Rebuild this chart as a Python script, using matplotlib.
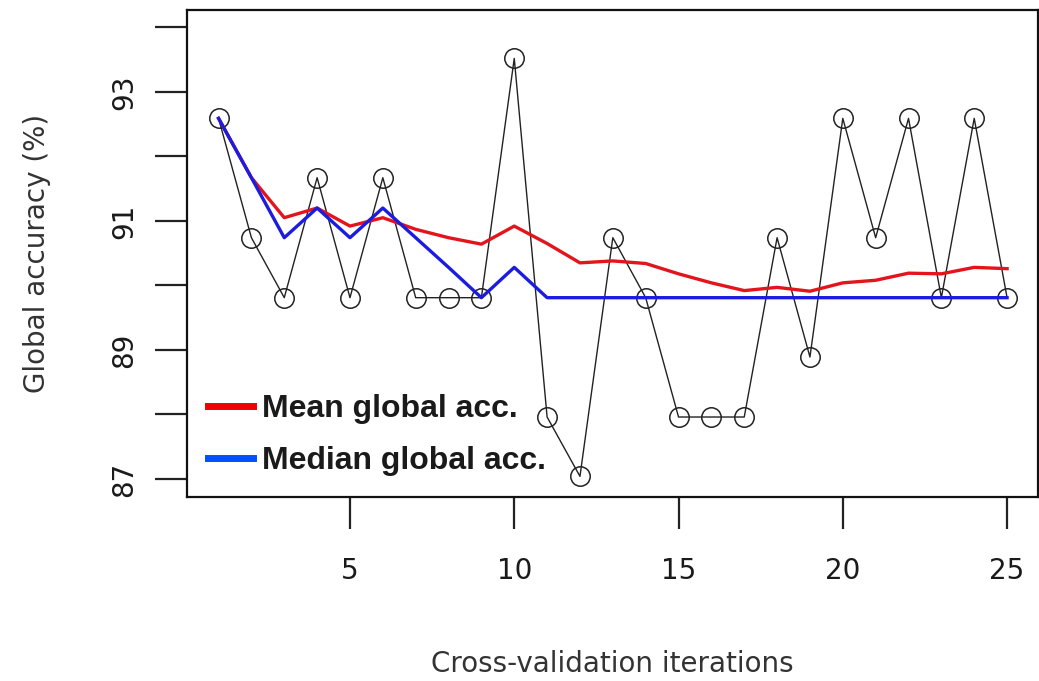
import matplotlib
matplotlib.use("Agg")
import matplotlib.pyplot as plt
from matplotlib.lines import Line2D

iterations = list(range(1, 26))
accuracy = [92.59, 90.74, 89.81, 91.67, 89.81, 91.67, 89.81, 89.81, 89.81, 93.52,
            87.96, 87.04, 90.74, 89.81, 87.96, 87.96, 87.96, 90.74, 88.89, 92.59,
            90.74, 92.59, 89.81, 92.59, 89.81]
mean_acc = [92.59, 91.67, 91.05, 91.20, 90.92, 91.05, 90.87, 90.74, 90.64, 90.92,
            90.65, 90.35, 90.38, 90.34, 90.18, 90.04, 89.92, 89.97, 89.91, 90.04,
            90.08, 90.19, 90.18, 90.28, 90.26]
median_acc = [92.59, 91.67, 90.74, 91.20, 90.74, 91.20, 90.74, 90.28, 89.81, 90.28,
              89.81, 89.81, 89.81, 89.81, 89.81, 89.81, 89.81, 89.81, 89.81, 89.81,
              89.81, 89.81, 89.81, 89.81, 89.81]
x_ticks = [5, 10, 15, 20, 25]
y_ticks = [87, 88, 89, 90, 91, 92, 93, 94]
y_labels = ["87", "", "89", "", "91", "", "93", ""]
legend_labels = ["Mean global acc.", "Median global acc."]

fig = plt.figure(figsize=(10.39, 6.81), dpi=100)
ax = fig.add_axes([0.18, 0.2702, 0.819, 0.7151])

ax.plot(iterations, accuracy, color="#222222", lw=1.0, marker="o", ms=14,
        mfc="none", mec="#222222", mew=1.1, zorder=2)
ax.plot(iterations, mean_acc, color="#e3141c", lw=2.4, zorder=3)
ax.plot(iterations, median_acc, color="#1c1ce0", lw=2.4, zorder=4)

ax.set_xlim(0.04, 25.94)
ax.set_ylim(86.72, 94.27)
ax.set_xticks(x_ticks)
ax.set_xticklabels([str(t) for t in x_ticks])
ax.set_yticks(y_ticks)
ax.set_yticklabels(y_labels, rotation=90, va="center")

for s in ax.spines.values():
    s.set_linewidth(1.6)
    s.set_color("#111111")
ax.tick_params(axis="both", direction="out", length=23, width=1.6, color="#222222",
               labelsize=20, labelcolor="#1a1a1a")
ax.tick_params(axis="x", pad=20)
ax.tick_params(axis="y", pad=12)

ax.set_xlabel("Cross-validation iterations", fontsize=20, color="#333333", labelpad=47)
ax.set_ylabel("Global accuracy (%)", fontsize=20, color="#333333", labelpad=43)

handles = [Line2D([0], [0], color="#f00000", lw=5),
           Line2D([0], [0], color="#0050ff", lw=5)]
leg = ax.legend(handles, legend_labels, loc="lower left", frameon=False,
                prop={"family": "Liberation Sans", "weight": "bold", "size": 23},
                handlelength=1.4, handletextpad=0.3, labelspacing=0.7,
                bbox_to_anchor=(0.0, 0.0), borderaxespad=0.25)
for t in leg.get_texts():
    t.set_color("#1a1a1a")

fig.savefig("out.png", dpi=100)
